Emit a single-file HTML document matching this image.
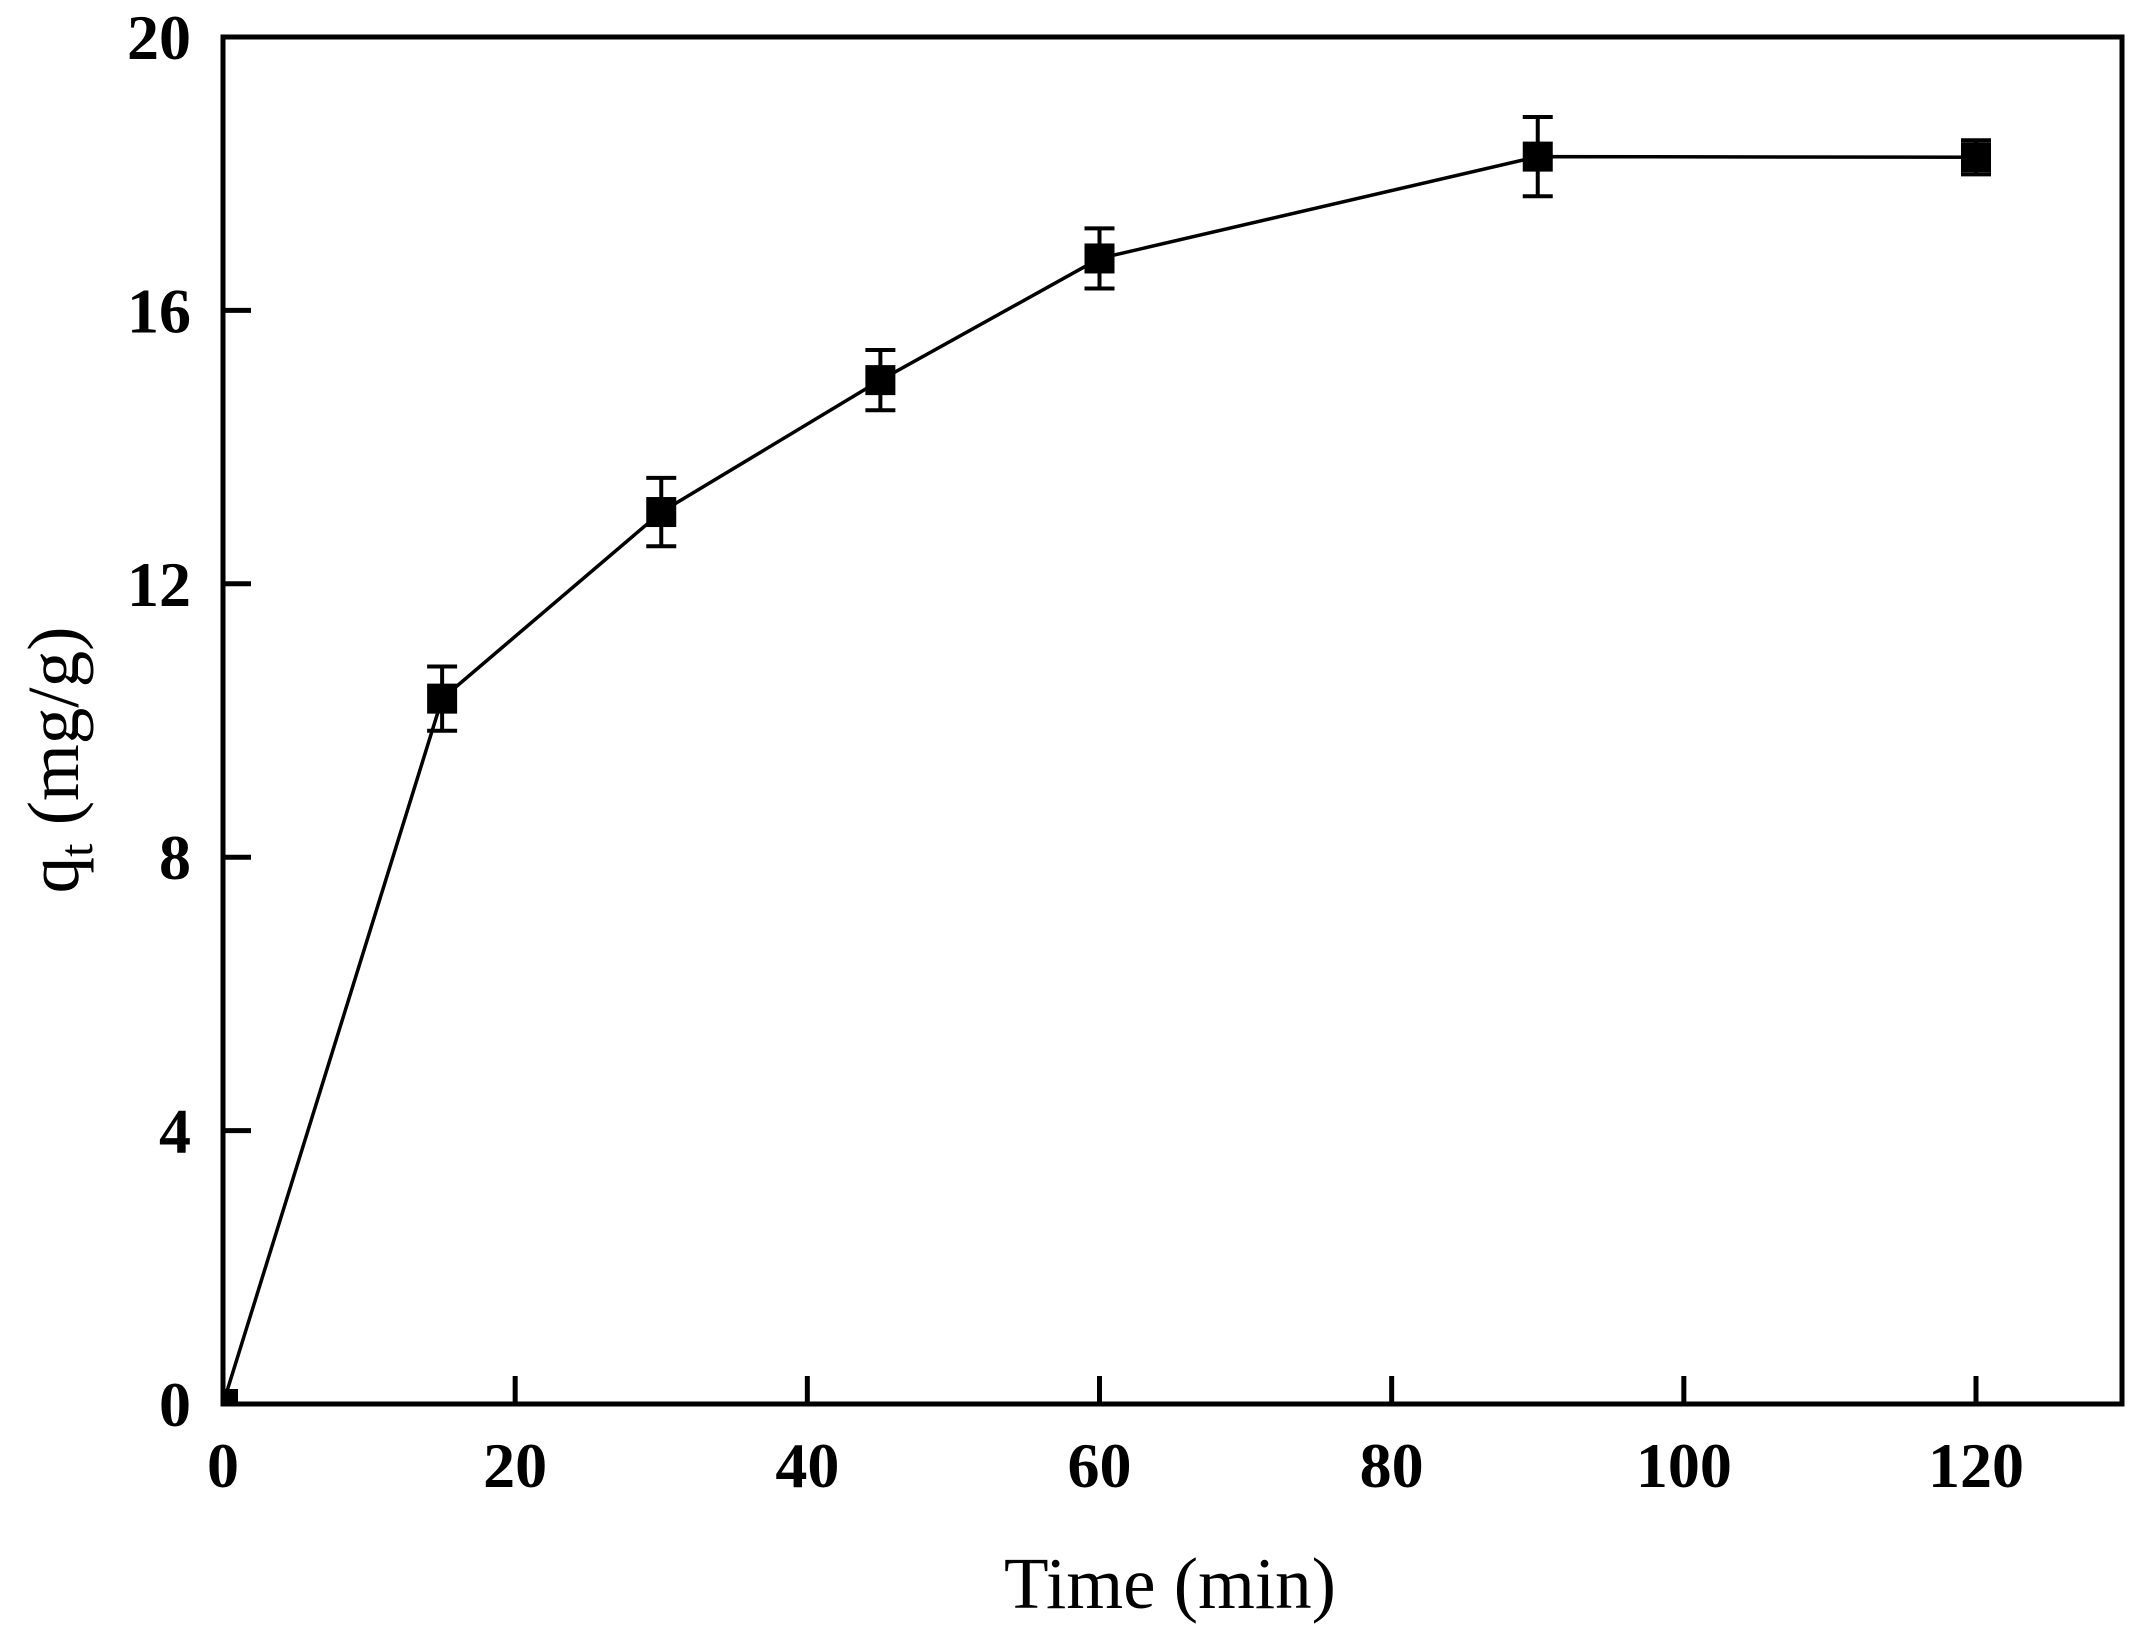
<!DOCTYPE html>
<html><head><meta charset="utf-8"><style>
html,body{margin:0;padding:0;background:#fff;}
svg{display:block;}
text{font-family:"Liberation Serif",serif;fill:#000;}
</style></head><body>
<svg id="chart" width="2139" height="1631" viewBox="0 0 2139 1631" xmlns="http://www.w3.org/2000/svg">
<defs><clipPath id="plotclip"><rect x="223" y="37" width="1899" height="1367"/></clipPath></defs>
<g id="marks" clip-path="url(#plotclip)"></g>
<g id="axes"></g>
<text x="1170" y="1608" text-anchor="middle" font-size="73">Time (min)</text>
<text transform="translate(78,760) rotate(-90)" text-anchor="middle" font-size="73">q<tspan font-size="48" dy="14">t</tspan><tspan dy="-14"> (mg/g)</tspan></text>
</svg>
<script>
const times = [0, 15, 30, 45, 60, 90, 120];
const qt = [0, 10.32, 13.05, 14.98, 16.76, 18.25, 18.24];
const errs = [0, 0.47, 0.5, 0.44, 0.44, 0.58, 0.25];
const xTicks = [0, 20, 40, 60, 80, 100, 120];
const yTicks = [0, 4, 8, 12, 16, 20];

const NS = 'http://www.w3.org/2000/svg';
const L = 223, R = 2122, T = 37, B = 1404;
const yMax = 20;
const xs = v => L + v * (1976 - L) / 120;
const ys = v => B - v * (B - T) / yMax;
function mk(tag, attrs, parent) {
  const e = document.createElementNS(NS, tag);
  for (const k in attrs) e.setAttribute(k, attrs[k]);
  parent.appendChild(e);
  return e;
}
const axes = document.getElementById('axes');
const marks = document.getElementById('marks');

const frame = mk('rect', {x: L, y: T, width: R - L, height: B - T, fill: 'none', stroke: '#000', 'stroke-width': 5}, axes);



xTicks.forEach(v => {
  const t = mk('line', {x1: xs(v), x2: xs(v), y1: B, y2: B - 28, stroke: '#000', 'stroke-width': 5}, axes);
  
  
  const lb = mk('text', {x: xs(v), y: 1487, 'text-anchor': 'middle', 'font-size': 64, 'font-weight': 'bold'}, axes);
  lb.textContent = v;
  
  
});
yTicks.forEach(v => {
  const t = mk('line', {x1: L, x2: L + 28, y1: ys(v), y2: ys(v), stroke: '#000', 'stroke-width': 5}, axes);
  
  
  const lb = mk('text', {x: 191, y: ys(v) + 22, 'text-anchor': 'end', 'font-size': 64, 'font-weight': 'bold'}, axes);
  lb.textContent = v;
  
  
});

const pts = times.map((t, i) => xs(t) + ',' + ys(qt[i])).join(' ');
const line = mk('polyline', {points: pts, fill: 'none', stroke: '#000', 'stroke-width': 3.5}, marks);



times.forEach((t, i) => {
  const x = xs(t), y = ys(qt[i]);
  if (errs[i] > 0) {
    const y1 = ys(qt[i] + errs[i]), y2 = ys(qt[i] - errs[i]);
    const eb = mk('path', {d: `M${x},${y1}V${y2}M${x-15},${y1}H${x+15}M${x-15},${y2}H${x+15}`, stroke: '#000', 'stroke-width': 4, fill: 'none'}, marks);
    
    
  }
  const m = mk('rect', {x: x - 15, y: y - 15, width: 30, height: 30, fill: '#000'}, marks);
  
  
});
</script>
</body></html>
